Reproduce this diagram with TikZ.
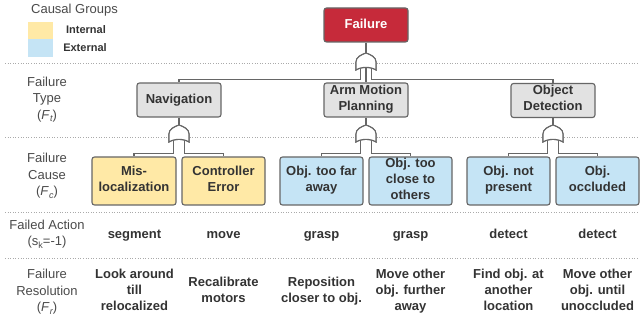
\documentclass[tikz,border=0pt]{standalone}
\usepackage{fontspec}
\setmainfont{Liberation Sans}
\definecolor{failred}{HTML}{C62A3A}
\definecolor{intyel}{HTML}{FFE9A6}
\definecolor{extblue}{HTML}{C5E4F5}
\definecolor{typegrey}{HTML}{E2E2E2}
\definecolor{edgec}{HTML}{666666}
\definecolor{txtc}{HTML}{333333}
\definecolor{lblc}{HTML}{4A4A4A}
\definecolor{sepc}{HTML}{AAAAAA}
\tikzset{
  strutted/.style={execute at begin node=\strut, execute at end node=\strut},
  boxbase/.style={draw=edgec, line width=1.1pt, rounded corners=2.5pt, inner sep=0pt, align=center,
    text=txtc, font=\fontsize{13}{16}\selectfont\bfseries, strutted},
  failbox/.style={boxbase, fill=failred, text=white, minimum width=84pt, minimum height=34pt},
  typebox/.style={boxbase, fill=typegrey, minimum width=84pt, minimum height=34pt},
  intbox/.style={boxbase, fill=intyel, minimum width=84pt, minimum height=48pt},
  extbox/.style={boxbase, fill=extblue, minimum width=84pt, minimum height=48pt},
  conn/.style={draw=edgec, line width=1.1pt},
  sepline/.style={draw=sepc, dotted, line width=0.6pt},
  rowlabel/.style={align=center, text=lblc, inner sep=0pt, font=\fontsize{13}{16.5}\selectfont, strutted},
  acttext/.style={align=center, text=txtc, inner sep=0pt, font=\fontsize{13}{16}\selectfont\bfseries, strutted},
  legtext/.style={text=txtc, inner sep=0pt, font=\fontsize{11}{13}\selectfont\bfseries},
  orgate/.pic={
    \path[draw=edgec, fill=white, line width=1.1pt]
      (-10,17) -- (-10,9) .. controls (-10,4) and (-5,2) .. (0,0)
      .. controls (5,2) and (10,4) .. (10,9) -- (10,17)
      .. controls (5,13.5) and (-5,13.5) .. (-10,17) -- cycle;
    \coordinate (-apex) at (0,0);
    \coordinate (-inL) at (-5.5,15);
    \coordinate (-inM) at (0,14.5);
    \coordinate (-inR) at (5.5,15);
  }
}
\newcommand{\subit}[2]{(\textit{#1}\raisebox{-2.5pt}{\fontsize{9}{9}\selectfont\itshape #2})}
\begin{document}
\begin{tikzpicture}[x=1pt,y=-1pt]
\useasboundingbox (0,0) rectangle (640,323);
% separators
\foreach \yy in {63,137,212.5,258}
  \draw[sepline] (5,\yy) -- (638,\yy);
% legend
\node[text=lblc, inner sep=0pt, font=\fontsize{13}{16}\selectfont] (leg) at (74.5,10) {Causal Groups};
\fill[intyel] (28,22) rectangle (53,39);
\fill[extblue] (28,39) rectangle (53,57);
\node[legtext] (legint) at (86,30) {Internal};
\node[legtext] (legext) at (85,47.5) {External};
% row labels
\node[rowlabel] (lt) at (47,100.5) {Failure\\Type\\\subit{F}{t}};
\node[rowlabel] (lc) at (47,176.8) {Failure\\Cause\\\subit{F}{c}};
\node[rowlabel] (la) at (47,235.5) {Failed Action\\(s\raisebox{-2.5pt}{\fontsize{9}{9}\selectfont k}=-1)};
\node[rowlabel] (lr) at (47,292.8) {Failure\\Resolution\\\subit{F}{r}};
% boxes
\node[failbox] (fail) at (366,25) {Failure};
\node[typebox] (nav) at (179,100) {Navigation};
\node[typebox] (arm) at (366,100) {Arm Motion\\Planning};
\node[typebox] (obj) at (553,100.5) {Object\\Detection};
\node[intbox] (misl) at (134,181) {Mis-\\localization};
\node[intbox, minimum width=83pt] (ctrl) at (223.5,181) {Controller\\Error};
\node[extbox, minimum width=83pt] (far) at (321.5,181) {Obj. too far\\away};
\node[extbox, minimum width=83pt] (close) at (410.5,181) {Obj. too\\close to\\others};
\node[extbox, minimum width=83pt] (notp) at (508.5,181) {Obj. not\\present};
\node[extbox, minimum width=83pt] (occ) at (597.5,181) {Obj.\\occluded};
% gate coordinates
\path (366,53) pic (g0) {orgate};
\path (179,125) pic (g1) {orgate};
\path (366,125) pic (g2) {orgate};
\path (553,125) pic (g3) {orgate};
% connectors
\draw[conn] (fail.south) -- (g0-apex);
\draw[conn] (g0-inL) |- ([yshift=3pt]nav.north) -- (nav.north);
\draw[conn] (g0-inM) -- (arm.north);
\draw[conn] (g0-inR) |- ([yshift=3pt]obj.north) -- (obj.north);
\draw[conn] (nav.south) -- (g1-apex);
\draw[conn] (arm.south) -- (g2-apex);
\draw[conn] (obj.south) -- (g3-apex);
\draw[conn] (g1-inL) |- ([yshift=3pt]misl.north) -- (misl.north);
\draw[conn] (g1-inR) |- ([yshift=3pt]ctrl.north) -- (ctrl.north);
\draw[conn] (g2-inL) |- ([yshift=3pt]far.north) -- (far.north);
\draw[conn] (g2-inR) |- ([yshift=3pt]close.north) -- (close.north);
\draw[conn] (g3-inL) |- ([yshift=3pt]notp.north) -- (notp.north);
\draw[conn] (g3-inR) |- ([yshift=3pt]occ.north) -- (occ.north);
% redraw gates on top of connectors
\path (366,53) pic (h0) {orgate};
\path (179,125) pic (h1) {orgate};
\path (366,125) pic (h2) {orgate};
\path (553,125) pic (h3) {orgate};
% failed actions
\node[acttext] (a1) at (134.5,235.3) {segment};
\node[acttext] (a2) at (223.5,235.3) {move};
\node[acttext] (a3) at (321.5,235.3) {grasp};
\node[acttext] (a4) at (410.5,235.3) {grasp};
\node[acttext] (a5) at (508.5,235.3) {detect};
\node[acttext] (a6) at (597.5,235.3) {detect};
% resolutions
\node[acttext] (r1) at (134.5,292.3) {Look around\\till\\relocalized};
\node[acttext] (r2) at (223.5,292.3) {Recalibrate\\motors};
\node[acttext] (r3) at (321.5,292.3) {Reposition\\closer to obj.};
\node[acttext] (r4) at (410.5,292.3) {Move other\\obj. further\\away};
\node[acttext] (r5) at (508.5,292.3) {Find obj. at\\another\\location};
\node[acttext] (r6) at (597.5,292.3) {Move other\\obj. until\\unoccluded};
\end{tikzpicture}
\end{document}
